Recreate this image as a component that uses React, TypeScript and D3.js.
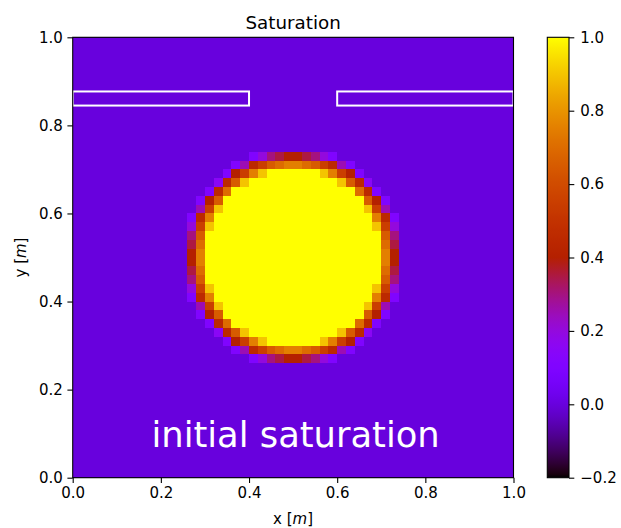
import { useEffect, useRef } from 'react';
import * as d3 from 'd3';

// 50x50 saturation grid, background value everywhere except the circular patch
const gridSize = 50;
const backgroundSaturation = 0;
// the patch covers rows/cols 13..36 of the grid (row 0 = top)
const patchOrigin = 13;
// one char per cell: value = index / 20, '.' = 0, 'K' = 1.0
const levelCodes = '.123456789ABCDEFGHIJK';
const patchRows = [
  '.......2467887642.......',
  '.....259BDEFFEDB952.....',
  '....28BFIKKKKKKIFB82....',
  '...39DIKKKKKKKKKKID93...',
  '..29EKKKKKKKKKKKKKKE92..',
  '.28DKKKKKKKKKKKKKKKKD82.',
  '.5BIKKKKKKKKKKKKKKKKIB5.',
  '29FKKKKKKKKKKKKKKKKKKF92',
  '4BIKKKKKKKKKKKKKKKKKKIB4',
  '6DKKKKKKKKKKKKKKKKKKKKD6',
  '7EKKKKKKKKKKKKKKKKKKKKE7',
  '8FKKKKKKKKKKKKKKKKKKKKF8',
  '8FKKKKKKKKKKKKKKKKKKKKF8',
  '7EKKKKKKKKKKKKKKKKKKKKE7',
  '6DKKKKKKKKKKKKKKKKKKKKD6',
  '4BIKKKKKKKKKKKKKKKKKKIB4',
  '29FKKKKKKKKKKKKKKKKKKF92',
  '.5BIKKKKKKKKKKKKKKKKIB5.',
  '.28DKKKKKKKKKKKKKKKKD82.',
  '..29EKKKKKKKKKKKKKKE92..',
  '...39DIKKKKKKKKKKID93...',
  '....28BFIKKKKKKIFB82....',
  '.....259BDEFFEDB952.....',
  '.......2467887642.......',
];

// impermeable barriers, in metres
const barriers = [
  { x0: 0, x1: 0.4, y0: 0.845, y1: 0.877 },
  { x0: 0.6, x1: 1.0, y0: 0.845, y1: 0.877 },
];

const axisTicks = [0, 0.2, 0.4, 0.6, 0.8, 1.0];
const colorTicks = [-0.2, 0, 0.2, 0.4, 0.6, 0.8, 1.0];
const colorDomain = [-0.2, 1.0];

// matplotlib "gnuplot" colormap
function gnuplot(t: number) {
  const c = (v: number) => Math.round(255 * Math.max(0, Math.min(1, v)));
  return `rgb(${c(Math.sqrt(t))},${c(t * t * t)},${c(Math.sin(2 * Math.PI * t))})`;
}

function cellValue(row: number, col: number) {
  const r = row - patchOrigin;
  const c = col - patchOrigin;
  if (r < 0 || r >= patchRows.length || c < 0 || c >= patchRows[r].length) return backgroundSaturation;
  return levelCodes.indexOf(patchRows[r][c]) / 20;
}

const FONT = 'DejaVu Sans, sans-serif';

export default function App() {
  const svgRef = useRef<SVGSVGElement>(null);

  useEffect(() => {
    const width = 621;
    const height = 528;
    const plot = { left: 72.7, right: 513.5, top: 37.3, bottom: 477.7 };
    const cbar = { left: 547.3, right: 569 };

    const svg = d3.select(svgRef.current)
      .attr('width', width)
      .attr('height', height);
    svg.selectAll('*').remove();

    svg.append('rect').attr('width', width).attr('height', height).attr('fill', '#fff');

    const x = d3.scaleLinear().domain([0, 1]).range([plot.left, plot.right]);
    const y = d3.scaleLinear().domain([0, 1]).range([plot.bottom, plot.top]);
    const norm = d3.scaleLinear().domain(colorDomain).range([0, 1]).clamp(true);
    const color = (v: number) => gnuplot(norm(v));

    const cells: { row: number; col: number; v: number }[] = [];
    for (let row = 0; row < gridSize; row++) {
      for (let col = 0; col < gridSize; col++) {
        cells.push({ row, col, v: cellValue(row, col) });
      }
    }

    svg.append('g')
      .attr('shape-rendering', 'crispEdges')
      .selectAll('rect')
      .data(cells)
      .enter()
      .append('rect')
      .attr('x', d => x(d.col / gridSize))
      .attr('y', d => y(1 - d.row / gridSize))
      .attr('width', d => x((d.col + 1) / gridSize) - x(d.col / gridSize) + 0.3)
      .attr('height', d => y(1 - (d.row + 1) / gridSize) - y(1 - d.row / gridSize) + 0.3)
      .attr('fill', d => color(d.v));

    const defs = svg.append('defs');
    defs.append('clipPath').attr('id', 'plot-clip')
      .append('rect')
      .attr('x', plot.left).attr('y', plot.top)
      .attr('width', plot.right - plot.left).attr('height', plot.bottom - plot.top);

    svg.append('g')
      .attr('clip-path', 'url(#plot-clip)')
      .selectAll('rect')
      .data(barriers)
      .enter()
      .append('rect')
      .attr('x', d => x(d.x0))
      .attr('y', d => y(d.y1))
      .attr('width', d => x(d.x1) - x(d.x0))
      .attr('height', d => y(d.y0) - y(d.y1))
      .attr('fill', 'none')
      .attr('stroke', '#fff')
      .attr('stroke-width', 2);

    svg.append('text')
      .attr('x', x(0.5) + 2.5)
      .attr('y', y(0.07))
      .attr('text-anchor', 'middle')
      .attr('font-family', FONT)
      .attr('font-size', 35.3)
      .attr('fill', '#fff')
      .text('initial saturation');

    // spines
    svg.append('rect')
      .attr('x', plot.left).attr('y', plot.top)
      .attr('width', plot.right - plot.left).attr('height', plot.bottom - plot.top)
      .attr('fill', 'none').attr('stroke', '#000').attr('stroke-width', 1.1);

    const fmt = d3.format('.1f');
    const styleAxis = (g: d3.Selection<SVGGElement, unknown, null, undefined>) => {
      g.select('.domain').remove();
      g.selectAll('.tick line').attr('stroke', '#000').attr('stroke-width', 1.1);
      g.selectAll('.tick text').attr('fill', '#000').attr('font-size', 15).attr('font-family', FONT);
    };

    svg.append('g')
      .attr('transform', `translate(0,${plot.bottom})`)
      .call(d3.axisBottom(x).tickValues(axisTicks).tickFormat(d => fmt(d as number)).tickSize(5.3).tickPadding(4.5))
      .call(styleAxis);

    svg.append('g')
      .attr('transform', `translate(${plot.left},0)`)
      .call(d3.axisLeft(y).tickValues(axisTicks).tickFormat(d => fmt(d as number)).tickSize(5.3).tickPadding(4.5))
      .call(styleAxis);

    svg.append('text')
      .attr('x', x(0.5))
      .attr('y', 28.5)
      .attr('text-anchor', 'middle')
      .attr('font-family', FONT)
      .attr('font-size', 18.3)
      .text('Saturation');

    const xl = svg.append('text')
      .attr('x', x(0.5))
      .attr('y', 523.5)
      .attr('text-anchor', 'middle')
      .attr('font-family', FONT)
      .attr('font-size', 15);
    xl.append('tspan').text('x [');
    xl.append('tspan').attr('font-style', 'italic').text('m');
    xl.append('tspan').text(']');

    const yl = svg.append('text')
      .attr('transform', `translate(25.5,${y(0.5)}) rotate(-90)`)
      .attr('text-anchor', 'middle')
      .attr('font-family', FONT)
      .attr('font-size', 15);
    yl.append('tspan').text('y [');
    yl.append('tspan').attr('font-style', 'italic').text('m');
    yl.append('tspan').text(']');

    // colorbar
    const cy = d3.scaleLinear().domain(colorDomain).range([plot.bottom, plot.top]);
    const grad = defs.append('linearGradient')
      .attr('id', 'cbar-grad')
      .attr('x1', 0).attr('y1', 1).attr('x2', 0).attr('y2', 0);
    d3.range(0, 1.0001, 1 / 128).forEach(t => {
      grad.append('stop').attr('offset', t).attr('stop-color', gnuplot(t));
    });
    svg.append('rect')
      .attr('x', cbar.left).attr('y', plot.top)
      .attr('width', cbar.right - cbar.left).attr('height', plot.bottom - plot.top)
      .attr('fill', 'url(#cbar-grad)')
      .attr('stroke', '#000').attr('stroke-width', 1.1);

    svg.append('g')
      .attr('transform', `translate(${cbar.right},0)`)
      .call(d3.axisRight(cy).tickValues(colorTicks).tickFormat(d => fmt(d as number)).tickSize(5.3).tickPadding(6))
      .call(styleAxis);
  }, []);

  return <svg ref={svgRef} style={{ position: 'absolute', left: 0, top: 0, display: 'block' }}></svg>;
}
